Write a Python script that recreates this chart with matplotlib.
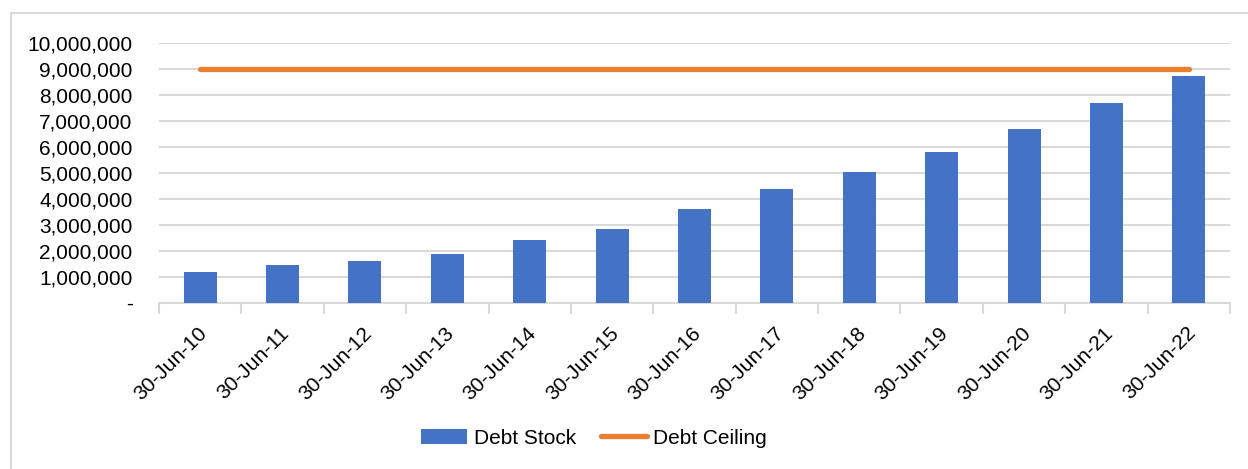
import matplotlib
matplotlib.use("Agg")
import matplotlib.pyplot as plt
import matplotlib.transforms as mtransforms
from matplotlib.lines import Line2D
from matplotlib.patches import Patch
from matplotlib import font_manager as fm
from matplotlib.ticker import FuncFormatter

categories = ["30-Jun-10", "30-Jun-11", "30-Jun-12", "30-Jun-13", "30-Jun-14",
              "30-Jun-15", "30-Jun-16", "30-Jun-17", "30-Jun-18", "30-Jun-19",
              "30-Jun-20", "30-Jun-21", "30-Jun-22"]
debt_stock = [1190000, 1460000, 1590000, 1860000, 2400000, 2810000, 3590000,
              4380000, 5020000, 5780000, 6670000, 7690000, 8720000]
debt_ceiling = [9000000] * 13

names = {f.name for f in fm.fontManager.ttflist}
fam = ["Liberation Sans Narrow"] if "Liberation Sans Narrow" in names else ["Liberation Sans"]
plt.rcParams["font.family"] = fam + ["DejaVu Sans"]

W, H = 1248, 469
fig = plt.figure(figsize=(W / 100, H / 100), dpi=100)

# outer chart border (left and top visible)
fig.add_artist(Line2D([11 / W, 11 / W], [0, 1 - 13.5 / H], color="#d9d9d9", lw=1.5))
fig.add_artist(Line2D([11 / W, 1], [1 - 13.5 / H, 1 - 13.5 / H], color="#d9d9d9", lw=1.5))

left, right, top, bottom = 159, 1230, 42.7, 302.5
ax = fig.add_axes([left / W, 1 - bottom / H, (right - left) / W, (bottom - top) / H])

x = list(range(len(categories)))
ax.bar(x, debt_stock, width=0.4, color="#4472C4", zorder=3, label="Debt Stock")
ax.plot(x, debt_ceiling, color="#ED7D31", lw=3.8, solid_capstyle="round", zorder=4,
        label="Debt Ceiling")

ax.set_xlim(-0.5, len(categories) - 0.5)
ax.set_ylim(0, 10000000)
ax.set_yticks(range(0, 10000001, 1000000))
ax.yaxis.set_major_formatter(FuncFormatter(lambda v, p: "-" if v == 0 else f"{int(v):,}"))
ax.grid(axis="y", color="#d9d9d9", lw=1.5, zorder=0)
ax.set_axisbelow(True)
for s in ["top", "right", "left"]:
    ax.spines[s].set_visible(False)
ax.spines["bottom"].set_color("#d9d9d9")
ax.spines["bottom"].set_linewidth(1.5)

ax.set_xticks(x)
ax.set_xticklabels(categories, rotation=45, ha="right", rotation_mode="anchor", fontsize=15)
ax.tick_params(axis="x", length=0, pad=15)
off = mtransforms.ScaledTranslation(-3 / 100, 0, fig.dpi_scale_trans)
for lbl in ax.get_xticklabels():
    lbl.set_transform(lbl.get_transform() + off)
ax.set_xticks([i - 0.5 for i in range(len(categories) + 1)], minor=True)
ax.tick_params(axis="x", which="minor", length=8, width=1.5, color="#d9d9d9")
ax.tick_params(axis="y", length=0, labelsize=15, pad=19)

handles = [Patch(facecolor="#4472C4", label="Debt Stock"),
           Line2D([0], [0], color="#ED7D31", lw=3.8, solid_capstyle="round", label="Debt Ceiling")]
fig.legend(handles=handles, loc="center", bbox_to_anchor=(594 / W, 1 - 438 / H), ncol=2,
           frameon=False, fontsize=15, handlelength=2.2, handletextpad=0.3, columnspacing=1.2)

fig.savefig("out.png", dpi=100)
